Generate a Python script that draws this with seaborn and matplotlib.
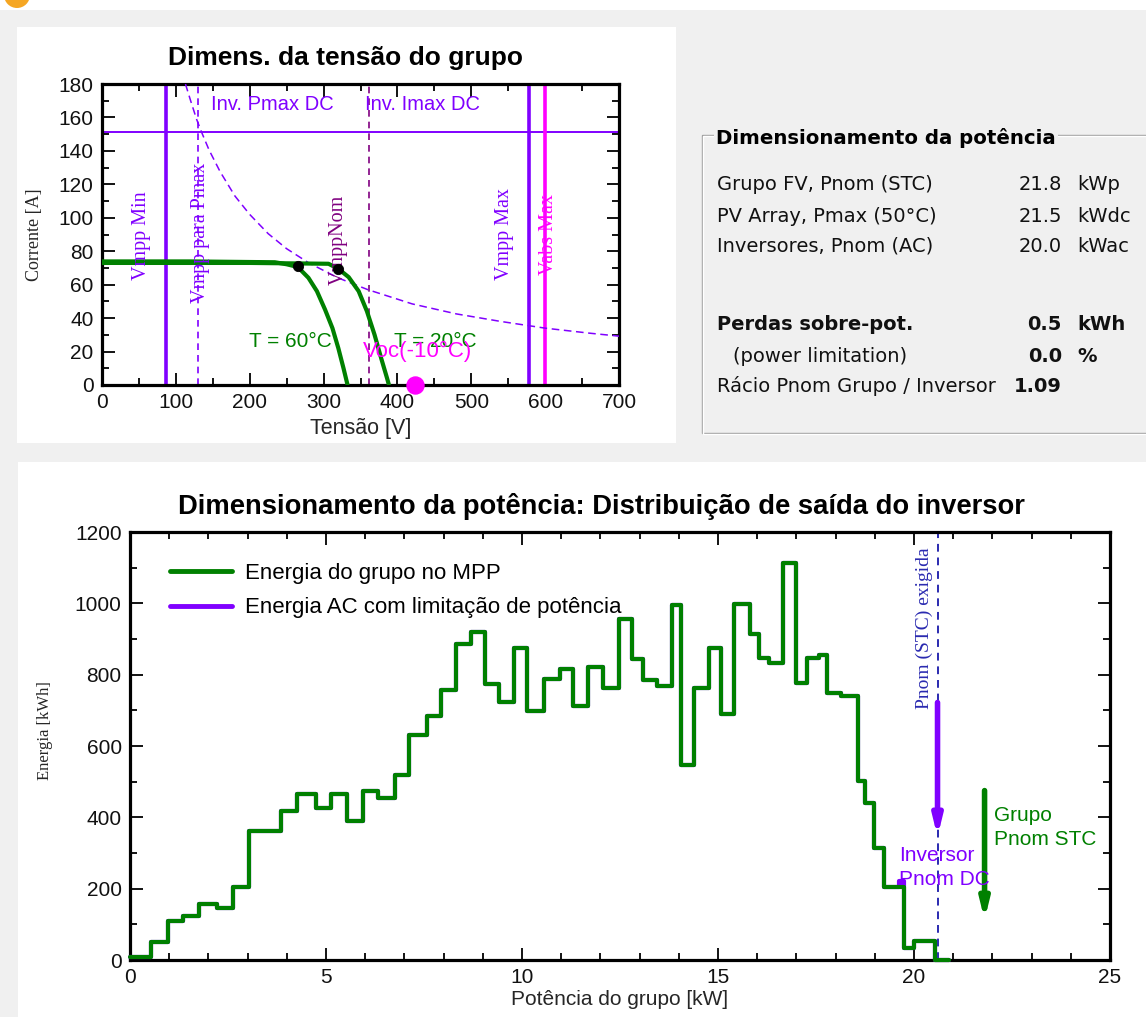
import matplotlib
matplotlib.use("Agg")
import matplotlib.pyplot as plt
from matplotlib.patches import Rectangle, Circle
from matplotlib.lines import Line2D
from matplotlib.ticker import MultipleLocator
import seaborn as sns

# ---------------- Array voltage sizing (I-V) ----------------
v_t60 = [0, 120, 234, 250, 265, 279.5, 291, 302, 312, 320, 327, 332.5]
i_t60 = [73.9, 73.9, 73.4, 72.2, 70.6, 64.1, 56.1, 45.1, 34.0, 22.0, 10.0, 0.0]
v_t20 = [0, 200, 306.7, 320, 334, 347.5, 358.7, 369, 378, 386, 388.5]
i_t20 = [73.0, 73.0, 72.5, 69.5, 64.5, 56.1, 44.1, 30.1, 16.0, 4.0, 0.0]
mpp_v = [265, 320]
mpp_i = [71.0, 69.5]

# inverter max DC power curve (constant power)
pmax_v = [113, 120, 128, 135, 145, 160, 180, 200, 225, 250, 280, 320, 360,
          420, 480, 540, 600, 660, 700]
pmax_i = [180, 170, 159, 151, 140.5, 127.5, 113, 102, 90.5, 81.5, 73,
          64, 57, 48.5, 42.5, 38, 34, 31, 29.2]

vmpp_min = 87
vmpp_for_pmax = 130
v_imax_dc = 361
vmpp_max = 578
vabs_max = 600
inv_imax_dc = 151
voc_minus10 = 424

# ---------------- Inverter output distribution ----------------
power_edges = [0.0, 0.53, 0.96, 1.36, 1.76, 2.23, 2.63, 3.03, 3.45, 3.86, 4.27,
               4.74, 5.12, 5.54, 5.94, 6.33, 6.75, 7.13, 7.58, 7.94, 8.31, 8.70,
               9.06, 9.41, 9.79, 10.13, 10.57, 10.96, 11.31, 11.68, 12.06, 12.48,
               12.80, 13.08, 13.44, 13.83, 14.06, 14.38, 14.78, 15.07, 15.41,
               15.82, 16.05, 16.31, 16.67, 16.98, 17.28, 17.58, 17.79, 18.15,
               18.56, 18.75, 18.98, 19.23, 19.62, 19.75, 20.00, 20.53, 20.90]
array_energy = [8, 50, 108, 124, 156, 145, 206, 362, 362, 419, 465, 427, 465,
                390, 474, 454, 519, 631, 685, 758, 887, 919, 774, 723, 875, 697,
                789, 817, 713, 821, 762, 956, 844, 786, 767, 996, 547, 762, 875,
                690, 999, 915, 848, 833, 1113, 778, 848, 854, 750, 739, 503, 440,
                314, 206, 206, 33, 53, 0]
ac_energy = [8, 50, 108, 124, 156, 145, 206, 362, 362, 419, 465, 427, 465,
             390, 474, 454, 519, 631, 685, 758, 887, 919, 774, 723, 875, 697,
             789, 817, 713, 821, 762, 956, 844, 786, 767, 996, 547, 762, 875,
             690, 999, 915, 848, 833, 1113, 778, 848, 854, 750, 739, 503, 440,
             314, 206, 222, 33, 53, 0]
pnom_required = 20.6
inv_pnom_dc = 20.6
array_pnom_stc = 21.8

# ---------------- Power sizing summary ----------------
info_labels = ["Grupo FV, Pnom (STC)", "PV Array, Pmax (50°C)",
               "Inversores, Pnom (AC)", "Perdas sobre-pot.",
               "(power limitation)", "Rácio Pnom Grupo / Inversor"]
info_values = [21.8, 21.5, 20.0, 0.5, 0.0, 1.09]
info_decimals = [1, 1, 1, 1, 1, 2]
info_units = ["kWp", "kWdc", "kWac", "kWh", "%", ""]

GREEN = "#008000"
VIOLET = "#8000ff"
MAGENTA = "#ff00ff"
DPURPLE = "#800080"
NAVY = "#2a2ab0"
BG = "#f0f0f0"
SANS = ["Liberation Sans", "DejaVu Sans"]
SERIF = ["Liberation Serif", "DejaVu Serif"]
BOX = ["DejaVu Sans"]

sns.set_theme(style="white")
plt.rcParams["font.family"] = SANS
plt.rcParams["text.color"] = "black"

W, H = 1146, 1017
fig = plt.figure(figsize=(W / 100, H / 100), dpi=100, facecolor=BG)

# background layer in pixel coordinates
bg = fig.add_axes([0, 0, 1, 1], zorder=-10)
bg.set_xlim(0, W)
bg.set_ylim(H, 0)
bg.axis("off")
bg.add_patch(Rectangle((0, 0), W, 10, facecolor="white", edgecolor="none"))
bg.add_patch(Circle((17, -5), 13, facecolor="#f5a623", edgecolor="none"))
bg.add_patch(Rectangle((17, 27), 659, 416, facecolor="white", edgecolor="none"))
bg.add_patch(Rectangle((18, 462), W - 18, H - 462, facecolor="white", edgecolor="none"))
# group box frame (etched)
bg.add_patch(Rectangle((702, 135), 460, 298, facecolor="none", edgecolor="#a0a0a0", lw=1.0))
bg.add_patch(Rectangle((703, 136), 460, 298, facecolor="none", edgecolor="white", lw=1.0))
bg.text(716, 138, "Dimensionamento da potência", fontsize=14.2, fontweight="bold",
        family=BOX, va="center", ha="left",
        bbox=dict(facecolor=BG, edgecolor="none", pad=1.5))
rows_y = [185, 216, 246, 325, 356, 386]
for k, (lab, val, dec, unit, y) in enumerate(zip(info_labels, info_values,
                                                  info_decimals, info_units, rows_y)):
    lab_bold = k == 3
    val_bold = k >= 3
    x_lab = 733 if k == 4 else 717
    bg.text(x_lab, y, lab, fontsize=14, va="center", ha="left", family=BOX,
            fontweight="bold" if lab_bold else "normal", color="#111111")
    bg.text(1062, y, f"{val:.{dec}f}", fontsize=14, va="center", ha="right",
            family=BOX, fontweight="bold" if val_bold else "normal", color="#111111")
    if unit:
        bg.text(1077, y, unit, fontsize=14, va="center", ha="left", family=BOX,
                fontweight="bold" if val_bold else "normal", color="#111111")


def style_axes(ax):
    for sp in ax.spines.values():
        sp.set_visible(True)
        sp.set_linewidth(2.3)
        sp.set_color("black")
    ax.tick_params(which="both", direction="in", top=True, right=True,
                   bottom=True, left=True, color="black", width=1.3,
                   labelsize=15, labelcolor="#111111", pad=6)
    ax.tick_params(which="major", length=9)
    ax.tick_params(which="minor", length=5)
    ax.set_facecolor("white")


# ================= Top chart: array voltage sizing =================
ax1 = fig.add_axes([102 / W, 1 - 385 / H, 517 / W, 301 / H])
ax1.set_xlim(0, 700)
ax1.set_ylim(0, 180)
style_axes(ax1)
ax1.xaxis.set_major_locator(MultipleLocator(100))
ax1.xaxis.set_minor_locator(MultipleLocator(50))
ax1.yaxis.set_major_locator(MultipleLocator(20))
ax1.yaxis.set_minor_locator(MultipleLocator(10))

ax1.axhline(inv_imax_dc, color=VIOLET, lw=1.4, zorder=2)
ax1.axvline(vmpp_min, color=VIOLET, lw=2.6, zorder=2)
ax1.axvline(vmpp_max, color=VIOLET, lw=2.6, zorder=2)
ax1.axvline(vabs_max, color=MAGENTA, lw=2.6, zorder=2)
ax1.axvline(vmpp_for_pmax, color=VIOLET, lw=1.2, ls=(0, (4, 3)), zorder=2)
ax1.axvline(v_imax_dc, color=DPURPLE, lw=1.2, ls=(0, (4, 3)), zorder=2)

sns.lineplot(x=pmax_v, y=pmax_i, ax=ax1, color=VIOLET, lw=1.1,
             linestyle=(0, (5, 3)), sort=False, estimator=None, zorder=3)
sns.lineplot(x=v_t60, y=i_t60, ax=ax1, color=GREEN, lw=3.0, sort=False,
             estimator=None, zorder=4)
sns.lineplot(x=v_t20, y=i_t20, ax=ax1, color=GREEN, lw=3.0, sort=False,
             estimator=None, zorder=4)
sns.scatterplot(x=mpp_v, y=mpp_i, ax=ax1, color="black", s=55, marker="o",
                edgecolor="black", zorder=6)
ax1.scatter([voc_minus10], [0], s=150, color=MAGENTA, zorder=7, clip_on=False,
            marker="o", edgecolors=MAGENTA)

ax1.set_title("Dimens. da tensão do grupo", fontsize=19, fontweight="bold",
              pad=14, x=0.471)
ax1.set_xlabel("Tensão [V]", fontsize=15.5, labelpad=0)
ax1.xaxis.set_label_coords(0.5, -0.143)
ax1.xaxis.label.set_va("center")
ax1.set_ylabel("Corrente [A]", fontsize=13, family=SERIF)
ax1.yaxis.set_label_coords(-0.13, 0.5)
ax1.yaxis.label.set_va("center")

ax1.text(147, 168, "Inv. Pmax DC", color=VIOLET, fontsize=14.5, va="center", ha="left")
ax1.text(356, 168, "Inv. Imax DC", color=VIOLET, fontsize=14.5, va="center", ha="left")
vtexts = [(53, 89, "Vmpp Min", VIOLET), (133, 91, "Vmpp para Pmax", VIOLET),
          (320, 87, "VmppNom", DPURPLE), (545, 90, "Vmpp Max", VIOLET),
          (604, 90, "Vabs Max", MAGENTA)]
for x, y, s, c in vtexts:
    ax1.text(x, y, s, rotation=90, color=c, fontsize=14.5, family=SERIF,
             ha="center", va="center", zorder=5)
ax1.text(199, 26, "T = 60°C", color=GREEN, fontsize=15, va="center", ha="left", zorder=5)
ax1.text(396, 26, "T = 20°C", color=GREEN, fontsize=15, va="center", ha="left", zorder=5)
ax1.text(353, 20, "Voc(-10°C)", color=MAGENTA, fontsize=16, va="center", ha="left", zorder=5)

# ================= Bottom chart: output distribution =================
ax2 = fig.add_axes([130 / W, 1 - 960 / H, 980 / W, 428 / H])
ax2.set_xlim(0, 25)
ax2.set_ylim(0, 1200)
style_axes(ax2)
ax2.xaxis.set_major_locator(MultipleLocator(5))
ax2.xaxis.set_minor_locator(MultipleLocator(1))
ax2.yaxis.set_major_locator(MultipleLocator(200))
ax2.yaxis.set_minor_locator(MultipleLocator(100))

sns.lineplot(x=power_edges, y=ac_energy + [ac_energy[-1]], ax=ax2,
             drawstyle="steps-post", color=VIOLET, lw=3.0, sort=False,
             estimator=None, zorder=3, clip_on=False)
sns.lineplot(x=power_edges, y=array_energy + [array_energy[-1]], ax=ax2,
             drawstyle="steps-post", color=GREEN, lw=3.0, sort=False,
             estimator=None, zorder=4, clip_on=False)

ax2.axvline(pnom_required, color=NAVY, lw=1.4, ls=(0, (4, 3)), zorder=2)
ax2.text(pnom_required - 0.33, 929, "Pnom (STC) exigida", rotation=90,
         color=NAVY, fontsize=14, family=SERIF, ha="center", va="center")
ax2.annotate("", xy=(inv_pnom_dc, 345), xytext=(inv_pnom_dc, 722),
             arrowprops=dict(arrowstyle="-|>,head_length=0.9,head_width=0.22",
                             color=VIOLET, lw=4.0, shrinkA=0, shrinkB=0), zorder=5)
ax2.annotate("", xy=(array_pnom_stc, 112), xytext=(array_pnom_stc, 475),
             arrowprops=dict(arrowstyle="-|>,head_length=0.9,head_width=0.22",
                             color=GREEN, lw=4.0, shrinkA=0, shrinkB=0), zorder=5)
ax2.text(19.62, 260, "Inversor\nPnom DC", color=VIOLET, fontsize=15,
         ha="left", va="center", linespacing=1.35, zorder=6)
ax2.text(22.04, 372, "Grupo\nPnom STC", color=GREEN, fontsize=15,
         ha="left", va="center", linespacing=1.35, zorder=6)

ax2.set_title("Dimensionamento da potência: Distribuição de saída do inversor",
              fontsize=19.7, fontweight="bold", pad=13, x=0.481)
ax2.set_xlabel("Potência do grupo [kW]", fontsize=15)
ax2.xaxis.set_label_coords(0.5, -0.093)
ax2.xaxis.label.set_va("center")
ax2.set_ylabel("Energia [kWh]", fontsize=12, family=SERIF)
ax2.yaxis.set_label_coords(-0.087, 0.535)
ax2.yaxis.label.set_va("center")

handles = [Line2D([0], [0], color=GREEN, lw=3.5),
           Line2D([0], [0], color=VIOLET, lw=3.5)]
ax2.legend(handles, ["Energia do grupo no MPP",
                     "Energia AC com limitação de potência"],
           loc="upper left", bbox_to_anchor=(0.032, 0.948), frameon=False,
           fontsize=16, handlelength=2.8, handletextpad=0.58, labelspacing=0.6,
           borderaxespad=0.0)

fig.savefig("out.png", dpi=100, facecolor=BG)
